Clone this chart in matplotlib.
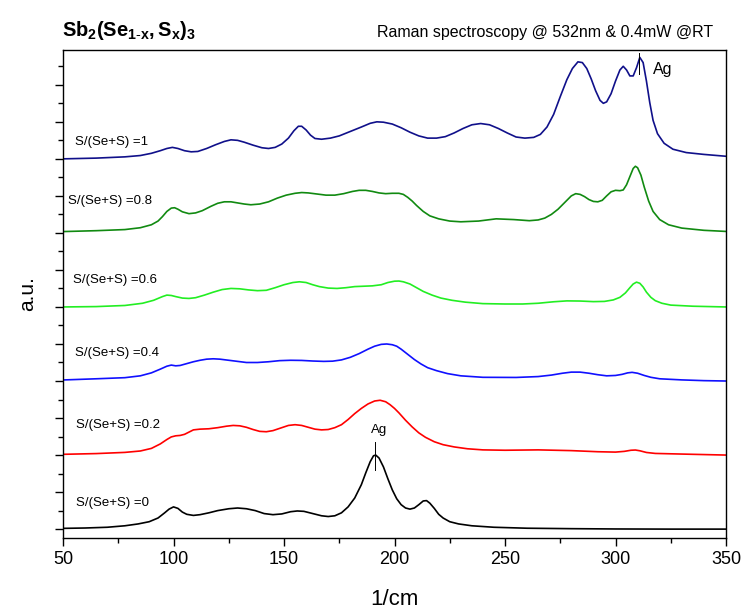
import matplotlib
matplotlib.use('Agg')
import matplotlib.pyplot as plt
from matplotlib.ticker import MultipleLocator, NullFormatter

plt.rcParams['font.family'] = ['Liberation Sans', 'DejaVu Sans']
plt.rcParams['mathtext.fontset'] = 'custom'
plt.rcParams['mathtext.rm'] = 'Liberation Sans'
plt.rcParams['mathtext.bf'] = 'Liberation Sans:bold'
plt.rcParams['mathtext.it'] = 'Liberation Sans:italic'

# spectra, intensity relative to each trace's own baseline
x_s0 = [50, 60, 70, 78, 84, 89, 93, 96, 98, 100, 102, 104, 106, 109, 112, 116, 120, 125, 129, 133,
        137, 141, 145, 149, 153, 156, 159, 163, 167, 170, 173, 176, 179, 182, 185, 187, 189, 190.5,
        191.5, 193, 195, 197, 199, 201, 203, 205, 207, 209, 211, 213, 214.5, 216, 218, 220, 222, 225,
        229, 235, 245, 260, 280, 300, 325, 350]
y_s0 = [0.01, 0.015, 0.025, 0.045, 0.07, 0.10, 0.15, 0.22, 0.27, 0.30, 0.28, 0.23, 0.20, 0.185,
        0.195, 0.22, 0.25, 0.275, 0.285, 0.275, 0.25, 0.21, 0.195, 0.205, 0.235, 0.245, 0.24, 0.21,
        0.18, 0.17, 0.18, 0.22, 0.30, 0.42, 0.60, 0.76, 0.91, 0.99, 1.00, 0.96, 0.84, 0.68, 0.53,
        0.41, 0.33, 0.285, 0.27, 0.285, 0.33, 0.38, 0.385, 0.35, 0.28, 0.20, 0.15, 0.10, 0.07, 0.045,
        0.025, 0.012, 0.006, 0.002, 0.0, 0.0]

x_s02 = [50, 65, 78, 85, 90, 94, 97, 99, 101, 103, 105, 107, 109, 112, 116, 120, 124, 127, 130, 133,
         136, 139, 142, 145, 149, 152, 155, 158, 161, 164, 167, 170, 173, 176, 179, 182, 185, 188,
         191, 193.5, 196, 198, 200, 202, 205, 208, 211, 214, 218, 222, 227, 233, 240, 250, 265, 280,
         292, 300, 304, 307, 309, 311, 314, 318, 325, 335, 350]
y_s02 = [0.01, 0.02, 0.036, 0.055, 0.09, 0.15, 0.21, 0.245, 0.26, 0.265, 0.28, 0.31, 0.34, 0.35,
         0.355, 0.37, 0.39, 0.40, 0.395, 0.375, 0.345, 0.32, 0.315, 0.33, 0.37, 0.40, 0.41, 0.40,
         0.375, 0.35, 0.34, 0.345, 0.37, 0.41, 0.48, 0.56, 0.63, 0.69, 0.73, 0.74, 0.72, 0.68, 0.63,
         0.57, 0.47, 0.38, 0.30, 0.24, 0.18, 0.14, 0.11, 0.085, 0.07, 0.065, 0.07, 0.06, 0.045, 0.04,
         0.05, 0.065, 0.068, 0.058, 0.035, 0.022, 0.017, 0.01, 0.0]

x_s04 = [50, 65, 78, 85, 90, 94, 97, 99, 101, 103, 106, 109, 112, 115, 118, 121, 125, 129, 133, 138,
         143, 148, 153, 158, 163, 168, 172, 176, 180, 184, 188, 191, 194, 196.5, 199, 201, 203, 206,
         209, 212, 215, 219, 224, 230, 240, 255, 265, 271, 276, 280, 284, 288, 292, 296, 300, 303,
         305.5, 307.5, 310, 313, 316, 320, 330, 340, 350]
y_s04 = [0.014, 0.03, 0.045, 0.07, 0.11, 0.16, 0.20, 0.215, 0.205, 0.21, 0.235, 0.26, 0.28, 0.295,
         0.30, 0.295, 0.28, 0.265, 0.25, 0.25, 0.26, 0.275, 0.28, 0.278, 0.27, 0.265, 0.268, 0.285,
         0.32, 0.37, 0.43, 0.47, 0.495, 0.50, 0.49, 0.47, 0.43, 0.36, 0.29, 0.23, 0.18, 0.14, 0.10,
         0.07, 0.05, 0.048, 0.06, 0.08, 0.105, 0.12, 0.12, 0.105, 0.085, 0.07, 0.075, 0.09, 0.11,
         0.117, 0.105, 0.075, 0.05, 0.03, 0.015, 0.005, 0.0]

x_s06 = [50, 65, 78, 86, 91, 95, 97, 99, 101, 104, 107, 110, 114, 118, 122, 126, 130, 134, 138, 142,
         146, 150, 154, 157, 160, 163, 166, 170, 174, 178, 182, 186, 190, 194, 197, 200, 202, 204,
         207, 210, 213, 217, 221, 226, 232, 240, 250, 258, 265, 272, 278, 284, 290, 295, 299, 302,
         304.5, 306.5, 308, 309.5, 311, 312.5, 314, 316, 318, 321, 325, 335, 350]
y_s06 = [0.0, 0.005, 0.02, 0.05, 0.09, 0.14, 0.16, 0.155, 0.14, 0.12, 0.115, 0.125, 0.16, 0.20,
         0.235, 0.25, 0.245, 0.23, 0.22, 0.225, 0.26, 0.30, 0.33, 0.34, 0.33, 0.30, 0.275, 0.255,
         0.25, 0.26, 0.275, 0.28, 0.285, 0.30, 0.33, 0.348, 0.35, 0.34, 0.31, 0.26, 0.21, 0.16, 0.12,
         0.09, 0.065, 0.045, 0.04, 0.04, 0.05, 0.07, 0.082, 0.08, 0.072, 0.075, 0.095, 0.13, 0.19,
         0.26, 0.31, 0.335, 0.32, 0.27, 0.20, 0.13, 0.085, 0.05, 0.025, 0.01, 0.0]

x_s08 = [50, 65, 78, 85, 90, 93, 95, 97, 99, 100.5, 102, 104, 107, 110, 113, 117, 120, 123, 126,
         129, 132, 135, 139, 143, 147, 151, 155, 158, 161, 165, 169, 173, 177, 181, 184, 187, 190,
         193, 196, 199, 202, 204, 206, 208, 210, 213, 216, 220, 225, 230, 238, 246, 254, 261, 265,
         268, 271, 274, 277, 280, 282, 284, 286, 288, 290, 292, 294, 296, 298, 300, 302, 303.5, 305,
         306.5, 308, 309, 310, 311.5, 313, 315, 317, 320, 324, 330, 340, 350]
y_s08 = [0.018, 0.03, 0.045, 0.07, 0.11, 0.16, 0.22, 0.29, 0.335, 0.34, 0.32, 0.285, 0.26, 0.27,
         0.30, 0.36, 0.40, 0.42, 0.42, 0.405, 0.39, 0.38, 0.39, 0.42, 0.47, 0.51, 0.535, 0.545, 0.54,
         0.525, 0.51, 0.51, 0.53, 0.56, 0.575, 0.575, 0.56, 0.54, 0.53, 0.535, 0.535, 0.52, 0.48,
         0.43, 0.37, 0.29, 0.23, 0.19, 0.16, 0.15, 0.16, 0.19, 0.18, 0.165, 0.175, 0.20, 0.25, 0.32,
         0.41, 0.50, 0.53, 0.52, 0.49, 0.45, 0.425, 0.42, 0.44, 0.50, 0.555, 0.575, 0.57, 0.58, 0.65,
         0.76, 0.87, 0.90, 0.88, 0.78, 0.62, 0.43, 0.29, 0.18, 0.11, 0.065, 0.035, 0.02]

x_s1 = [50, 65, 78, 85, 90, 94, 97, 99.5, 102, 105, 108, 111, 115, 119, 123, 126, 129, 132, 136, 140,
        143, 146, 149, 152, 154.5, 156.5, 158, 160, 162, 164, 167, 171, 175, 180, 185, 189, 192, 195,
        199, 203, 207, 211, 215, 219, 223, 227, 231, 235, 239, 243, 247, 251, 255, 259, 263, 266,
        269, 272, 275, 278, 280.5, 283, 285, 287, 289, 291, 293, 294.5, 296, 298, 300, 302, 303.5,
        305, 306.5, 308, 309.5, 311, 312.5, 314, 315.5, 317, 319, 322, 326, 332, 340, 350]
y_s1 = [0.0, 0.01, 0.027, 0.045, 0.075, 0.11, 0.14, 0.155, 0.14, 0.11, 0.095, 0.10, 0.14, 0.19,
        0.235, 0.257, 0.25, 0.225, 0.185, 0.15, 0.14, 0.155, 0.20, 0.28, 0.38, 0.44, 0.44, 0.39,
        0.32, 0.275, 0.265, 0.28, 0.31, 0.37, 0.43, 0.48, 0.50, 0.495, 0.47, 0.42, 0.36, 0.31, 0.28,
        0.28, 0.30, 0.35, 0.41, 0.46, 0.477, 0.46, 0.41, 0.35, 0.295, 0.28, 0.29, 0.33, 0.43, 0.60,
        0.84, 1.07, 1.22, 1.31, 1.30, 1.22, 1.08, 0.92, 0.79, 0.75, 0.77, 0.88, 1.05, 1.20, 1.25,
        1.20, 1.12, 1.12, 1.23, 1.37, 1.30, 1.05, 0.76, 0.52, 0.34, 0.21, 0.13, 0.085, 0.06, 0.035]

labels = ['S/(Se+S) =0', 'S/(Se+S) =0.2', 'S/(Se+S) =0.4', 'S/(Se+S) =0.6',
          'S/(Se+S) =0.8', 'S/(Se+S) =1']
offsets = [0, 1, 2, 3, 4, 5]
colors = ['#000000', '#ff0000', '#1010ff', '#22ee22', '#118a11', '#10108a']
label_x = [55.9, 55.9, 55.4, 54.4, 52.4, 55.4]
label_y = [0.35, 1.41, 2.38, 3.36, 4.43, 5.23]

# Ag markers: x position, line bottom/top, text position
ag_x = [191, 310.8]
ag_lo = [0.80, 6.14]
ag_hi = [1.18, 6.43]
ag_tx = [193, 317]
ag_ty = [1.34, 6.2]
ag_ha = ['center', 'left']
ag_size = [9.5, 11.5]

xs = [x_s0, x_s02, x_s04, x_s06, x_s08, x_s1]
ys = [y_s0, y_s02, y_s04, y_s06, y_s08, y_s1]

fig = plt.figure(figsize=(7.45, 6.09), dpi=100)
ax = fig.add_axes([63 / 745, 1 - 538 / 609, 663 / 745, 488 / 609])

for x, y, off, c, lab, lx, ly in zip(xs, ys, offsets, colors, labels, label_x, label_y):
    ax.plot(x, [v + off for v in y], color=c, lw=1.2, solid_joinstyle='round')
    ax.text(lx, ly, lab, fontsize=9.5, ha='left', va='center')

for i in range(len(ag_x)):
    ax.plot([ag_x[i], ag_x[i]], [ag_lo[i], ag_hi[i]], color='black', lw=0.7)
    ax.text(ag_tx[i], ag_ty[i], 'Ag', fontsize=ag_size[i], ha=ag_ha[i], va='center')

ax.set_xlim(50, 350)
ax.set_ylim(-0.12, 6.47)
ax.xaxis.set_major_locator(MultipleLocator(50))
ax.xaxis.set_minor_locator(MultipleLocator(25))
ax.yaxis.set_major_locator(MultipleLocator(0.5))
ax.yaxis.set_minor_locator(MultipleLocator(0.25))
ax.yaxis.set_major_formatter(NullFormatter())
ax.tick_params(axis='both', which='major', direction='out', length=6, width=1.0, labelsize=13)
ax.tick_params(axis='both', which='minor', direction='out', length=3.5, width=1.0)
for s in ax.spines.values():
    s.set_linewidth(1.0)

ax.set_xlabel('1/cm', fontsize=16, labelpad=15)
ax.set_ylabel('a.u.', fontsize=15, labelpad=9)

fig.text(62 / 745, 1 - 31 / 609, r'$\mathbf{Sb_2(Se_{1\text{-}x},S_x)_3}$',
         fontsize=14.5, ha='left', va='center')
fig.text(713 / 745, 1 - 32 / 609, 'Raman spectroscopy @ 532nm & 0.4mW @RT',
         fontsize=11.5, ha='right', va='center')

fig.savefig('out.png', dpi=100)
